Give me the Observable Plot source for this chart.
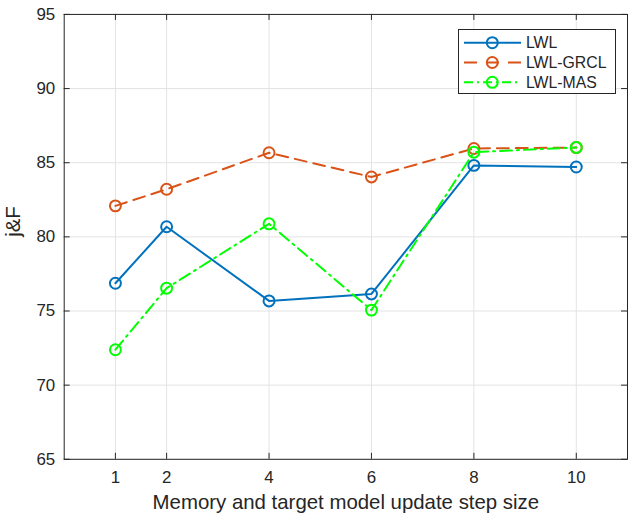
<!DOCTYPE html>
<html>
<head>
<meta charset="utf-8">
<script src="https://cdn.jsdelivr.net/npm/d3@7"></script>
<script src="https://cdn.jsdelivr.net/npm/@observablehq/plot@0.6"></script>
<style>
  html, body { margin: 0; padding: 0; background: #fff; overflow: hidden; }
  #chart { position: relative; width: 628px; height: 517px; overflow: hidden; }
  #legend { position: absolute; left: 458px; top: 29px; }
</style>
</head>
<body>
<div id="chart"></div>
<script>
// Step sizes on the x axis and J&F scores for each method
const steps = [1, 2, 4, 6, 8, 10];
const lwl = [76.87, 80.68, 75.68, 76.15, 84.82, 84.71];
const lwlGrcl = [82.09, 83.21, 85.67, 84.04, 85.96, 86.02];
const lwlMas = [72.39, 76.54, 80.88, 75.06, 85.71, 86.03];

const seriesNames = ["LWL", "LWL-GRCL", "LWL-MAS"];
const seriesValues = [lwl, lwlGrcl, lwlMas];
const colors = ["#0072BD", "#D95319", "#00FF00"];
const dashes = [null, "12,7", "12,5,2,5"];

const yTicks = [65, 70, 75, 80, 85, 90, 95];
const xDomain = [0, 11];
const yDomain = [65, 95];

const xTitle = "Memory and target model update step size";
const yTitle = "j&F";

const font = "'Liberation Sans', Arial, Helvetica, sans-serif";
const axisColor = "#262626";
const gridColor = "#e3e3e3";

// Long-format table: one row per (method, step)
const rows = seriesNames.flatMap((name, i) =>
  steps.map((s, j) => ({ series: name, step: s, value: seriesValues[i][j] }))
);

// Tick lengths in data units (ticks are drawn inside the box)
const xTickLen = 6 * (yDomain[1] - yDomain[0]) / 447;
const yTickLen = 6 * (xDomain[1] - xDomain[0]) / 566;

const seriesMarks = seriesNames.flatMap((name, i) => {
  const data = rows.filter(d => d.series === name);
  return [
    Plot.line(data, {
      x: "step", y: "value", stroke: colors[i], strokeWidth: 2,
      strokeDasharray: dashes[i] ?? undefined
    }),
    Plot.dot(data, {
      x: "step", y: "value", r: 5.5, stroke: colors[i], strokeWidth: 2, fill: "none"
    })
  ];
});

const chart = Plot.plot({
  width: 631,
  height: 517,
  marginLeft: 64,
  marginRight: 1,
  marginTop: 14,
  marginBottom: 56,
  style: { fontFamily: font, color: axisColor, background: "white", overflow: "visible" },
  x: { domain: xDomain, label: null },
  y: { domain: yDomain, label: null },
  marks: [
    Plot.gridX(steps, { stroke: gridColor, strokeOpacity: 1 }),
    Plot.gridY(yTicks, { stroke: gridColor, strokeOpacity: 1 }),
    // inward ticks on all four sides
    Plot.ruleX(steps, { y1: yDomain[0], y2: yDomain[0] + xTickLen, stroke: axisColor }),
    Plot.ruleX(steps, { y1: yDomain[1] - xTickLen, y2: yDomain[1], stroke: axisColor }),
    Plot.ruleY(yTicks, { x1: xDomain[0], x2: xDomain[0] + yTickLen, stroke: axisColor }),
    Plot.ruleY(yTicks, { x1: xDomain[1] - yTickLen, x2: xDomain[1], stroke: axisColor }),
    Plot.frame({ stroke: axisColor, strokeWidth: 1 }),
    Plot.axisX(steps, { tickSize: 0, tickPadding: 12, fontSize: 17, fill: axisColor, label: null }),
    Plot.axisY(yTicks, { tickSize: 0, tickPadding: 9, fontSize: 17, fill: axisColor, label: null }),
    ...seriesMarks,
    Plot.text([xTitle], {
      text: d => d, frameAnchor: "bottom", lineAnchor: "top", dy: 35.5,
      fontSize: 20.5, fill: axisColor
    }),
    Plot.text([yTitle], {
      text: d => d, frameAnchor: "left", lineAnchor: "top", rotate: -90, dx: -59,
      fontSize: 20.5, fill: axisColor
    })
  ]
});

const container = document.getElementById("chart");
container.appendChild(chart);

// Legend box in the upper right corner
const lw = 158, lh = 65, rowGap = 19.8, firstRow = 13.7;
const legend = d3.create("svg")
  .attr("id", "legend")
  .attr("width", lw)
  .attr("height", lh)
  .style("font-family", font);
legend.append("rect")
  .attr("x", 0.5).attr("y", 0.5)
  .attr("width", lw - 1).attr("height", lh - 1)
  .attr("fill", "white").attr("stroke", axisColor);
const entry = legend.selectAll("g.entry")
  .data(seriesNames)
  .join("g")
  .attr("class", "entry")
  .attr("transform", (d, i) => `translate(0,${firstRow + i * rowGap})`);
entry.append("line")
  .attr("x1", 6).attr("x2", 63).attr("y1", 0).attr("y2", 0)
  .attr("stroke", (d, i) => colors[i]).attr("stroke-width", 2)
  .attr("stroke-dasharray", (d, i) => dashes[i] === "12,7" ? "13,9" : dashes[i] === "12,5,2,5" ? "9,4,2,4" : null);
entry.append("circle")
  .attr("cx", 34.3).attr("cy", 0).attr("r", 5.5)
  .attr("fill", "none").attr("stroke", (d, i) => colors[i]).attr("stroke-width", 2);
entry.append("text")
  .attr("x", 68).attr("y", 0).attr("dy", "0.36em")
  .attr("font-size", 15.8).attr("fill", axisColor)
  .text(d => d);
container.appendChild(legend.node());
</script>
</body>
</html>
